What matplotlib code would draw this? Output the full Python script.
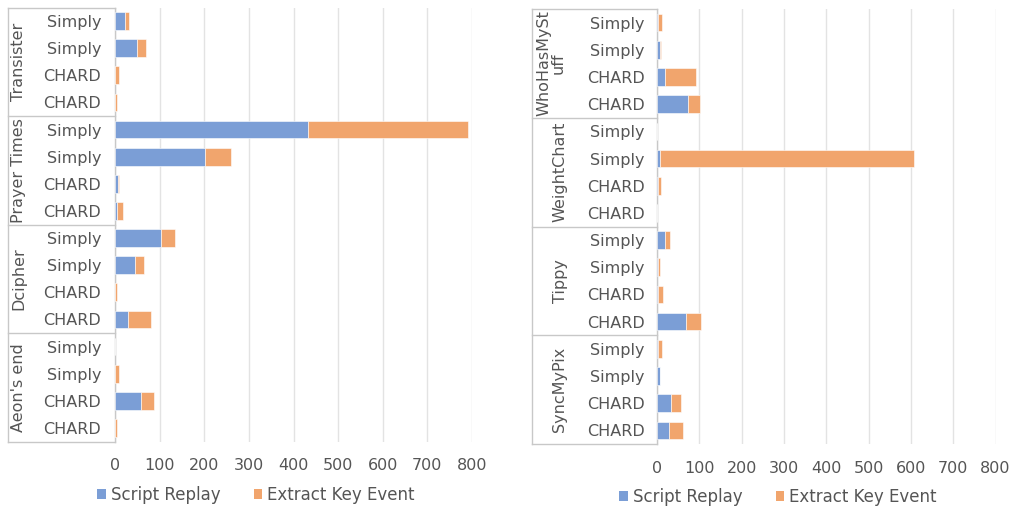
import matplotlib
matplotlib.use("Agg")
import matplotlib.pyplot as plt
from matplotlib.lines import Line2D
from matplotlib.patches import Patch
from matplotlib.transforms import blended_transform_factory
import numpy as np

plt.rcParams['font.family'] = ['DejaVu Sans']

# ---- data (rows listed top to bottom) ----
sub_labels = ["Simply", "Simply", "CHARD", "CHARD"]

left_groups = ["Transister", "Prayer Times", "Dcipher", "Aeon's end"]
left_script = [23, 50, 1, 1,
               433, 202, 7, 4,
               103, 45, 1, 29,
               0, 1, 58, 1]
left_extract = [9, 20, 7, 3,
                358, 59, 1, 14,
                32, 19, 3, 52,
                0, 9, 29, 3]

right_groups = ["WhoHasMySt\nuff", "WeightChart", "Tippy", "SyncMyPix"]
right_script = [3, 6, 20, 74,
                0, 7, 2, 0,
                19, 3, 2, 68,
                2, 6, 34, 28]
right_extract = [8, 3, 71, 28,
                 0, 600, 7, 0,
                 11, 3, 11, 36,
                 9, 2, 23, 34]

x_ticks = [0, 100, 200, 300, 400, 500, 600, 700, 800]
series_names = ["Script Replay", "Extract Key Event"]

BLUE = "#7B9ED6"
ORANGE = "#F1A56D"
TXT = "#555555"
GRID = "#E3E3E3"
FRAME = "#C8C8C8"

W, H = 1014, 508
fig = plt.figure(figsize=(W / 100, H / 100), dpi=100)


def px_axes(x0, x1, ytop, ybot):
    return fig.add_axes([x0 / W, 1 - ybot / H, (x1 - x0) / W, (ybot - ytop) / H])


def draw_panel(ax, groups, script, extract, frame_left, group_xs, label_pad):
    n = len(script)
    y = np.arange(n)
    ax.barh(y, script, height=0.65, color=BLUE, edgecolor="white", linewidth=0.4, zorder=3)
    ax.barh(y, extract, left=script, height=0.65, color=ORANGE, edgecolor="white",
            linewidth=0.4, zorder=3)
    ax.set_ylim(n - 0.5, -0.5)
    ax.set_xlim(0, 800)
    ax.set_xticks(x_ticks)
    ax.set_xticklabels([str(v) for v in x_ticks])
    ax.set_yticks(y)
    ax.set_yticklabels(sub_labels * len(groups))
    ax.tick_params(axis="y", length=0, pad=label_pad, labelsize=11.5, labelcolor=TXT)
    ax.tick_params(axis="x", length=0, pad=12, labelsize=11.5, labelcolor=TXT)
    ax.grid(axis="x", color=GRID, linewidth=1.0, zorder=0)
    for s in ["top", "right", "bottom"]:
        ax.spines[s].set_visible(False)
    ax.spines["left"].set_color(FRAME)
    ax.spines["left"].set_linewidth(1.0)

    tr = blended_transform_factory(fig.transFigure, ax.transData)
    axis_x = ax.get_position().x0
    fl = frame_left / W
    # outer frame of the category area
    for b in range(len(groups) + 1):
        yb = b * 4 - 0.5
        ax.add_line(Line2D([fl, axis_x], [yb, yb], transform=tr, color=FRAME,
                           linewidth=1.0, clip_on=False))
    ax.add_line(Line2D([fl, fl], [-0.5, n - 0.5], transform=tr, color=FRAME,
                       linewidth=1.0, clip_on=False))
    for g, name in enumerate(groups):
        ax.text(group_xs[g] / W, g * 4 + 1.5, name, transform=tr, rotation=90,
                ha="center", va="center", fontsize=11.5, color=TXT,
                multialignment="center", linespacing=1.0)


axL = px_axes(115, 472, 7.5, 441.5)
draw_panel(axL, left_groups, left_script, left_extract, 8, [19, 19, 19, 19], 10)

axR = px_axes(657, 995.5, 9, 444)
draw_panel(axR, right_groups, right_script, right_extract, 532, [551, 560, 560, 560], 9)

handles = [Patch(facecolor=BLUE, edgecolor="none"), Patch(facecolor=ORANGE, edgecolor="none")]
for cx, cy in [(256, 495), (778, 497)]:
    fig.legend(handles, series_names, loc="center", bbox_to_anchor=(cx / W, 1 - cy / H),
               ncol=2, frameon=False, fontsize=12, labelcolor=TXT,
               handlelength=0.5, handleheight=0.5, handletextpad=0.3,
               columnspacing=2.0)

fig.savefig("out.png", dpi=100)
